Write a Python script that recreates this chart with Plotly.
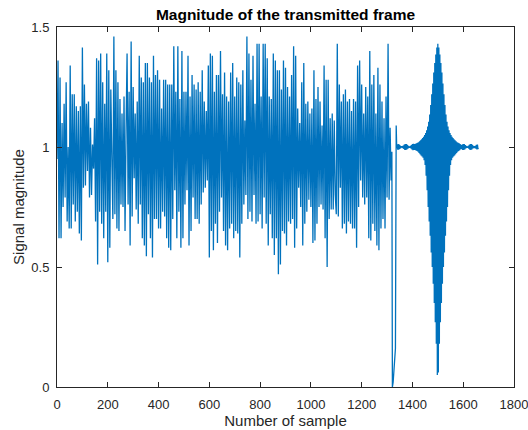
import numpy as np
import plotly.graph_objects as go

# Random-data part of the frame (one value every 4 samples)
noise_mag = [
    0.95, 1.36, 0.62, 1.29, 0.62, 1.10, 0.75, 1.18, 0.79, 1.27,
    0.69, 1.00, 0.66, 1.34, 0.66, 1.22, 0.76, 1.22, 0.69, 1.17,
    0.73, 1.15, 0.64, 1.17, 0.61, 1.415, 0.83, 1.26, 0.84, 1.18,
    0.90, 1.19, 0.79, 1.08, 0.80, 1.01, 0.91, 1.12, 0.69, 1.37,
    0.51, 1.36, 0.73, 1.39, 0.68, 1.27, 0.62, 1.18, 0.73, 1.39,
    0.52, 1.32, 0.58, 1.24, 0.95, 0.70, 1.46,
    0.72, 1.32, 0.66, 1.27, 0.65, 1.20, 0.76, 1.14, 0.75, 1.21,
    0.65, 1.07, 1.39, 0.76, 1.23, 0.59, 1.44, 0.71, 1.25, 0.87,
    1.14, 0.74, 1.19, 0.68, 1.38, 0.76, 1.29, 0.62, 1.27, 0.59,
    1.35, 0.545, 1.35, 0.72, 1.29, 0.62, 1.27, 0.54, 1.38, 0.70,
    1.30, 0.70, 1.32, 0.66, 1.28, 0.66, 1.16, 0.73, 1.28, 0.71,
    1.28, 0.62, 1.26, 0.58, 1.26, 0.57, 1.26, 0.70, 1.42, 0.82,
    1.23, 0.62, 1.42, 0.73, 1.20, 0.58, 1.40, 0.62, 1.23, 0.76,
    1.23, 0.82, 1.38, 0.59, 1.21, 0.65, 1.30, 0.79, 1.26, 0.70,
    1.24, 0.70, 1.27, 0.68, 1.23, 0.76, 1.32, 0.81, 1.19, 0.83,
    1.15, 0.86, 1.34, 0.54, 1.39, 0.65, 1.38, 0.57, 1.23, 0.68,
    1.30, 0.60, 1.30, 0.73, 1.40, 0.79, 1.22, 0.65, 1.31, 0.59,
    1.21, 0.57, 1.19, 0.66, 1.31, 0.68, 1.35, 0.62, 1.21, 0.65,
    1.29, 0.64, 1.27, 0.54, 1.26, 0.68, 1.32, 0.76, 1.11, 0.80,
    1.46, 0.70, 1.39, 0.73, 1.28, 0.69, 1.38, 0.80, 1.18, 0.68,
    1.43, 0.69, 1.43, 0.72, 1.21, 0.66, 1.43, 0.79, 1.43, 0.68,
    1.37, 0.59, 1.21, 0.72, 1.20, 0.62, 1.39, 0.55, 1.36, 0.62,
    1.32, 0.47, 1.32, 0.51, 1.24, 0.65, 1.36, 0.64, 1.33, 0.59,
    1.25, 0.69, 1.21, 0.68, 1.30, 0.70, 1.42, 0.58, 1.38, 0.66,
    1.16, 0.83, 1.10, 0.75, 1.27, 0.59, 1.35, 0.68, 1.18, 0.73,
    1.19, 0.78, 1.14, 0.75, 1.16, 0.60, 1.32, 0.61, 1.20, 0.68,
    1.25, 0.75, 1.19, 0.76, 1.09, 0.74, 1.34, 0.62, 1.28, 0.50,
    1.28, 0.70, 1.12, 0.74, 1.14, 0.74, 1.11, 0.80, 0.72, 1.43,
    0.71, 1.26, 0.83, 1.19, 0.66, 1.22, 0.68, 1.24, 0.64, 1.19,
    0.69, 1.20, 0.68, 1.15, 0.66, 1.20, 0.66, 1.19, 0.58, 1.34,
    0.75, 1.36, 0.86, 1.26, 0.79, 1.14, 0.76, 1.25, 0.79, 1.21,
    0.62, 1.40, 0.61, 1.26, 0.68, 1.30, 0.65, 1.14, 0.59, 1.33,
    0.57, 1.26, 0.66, 1.19, 0.70, 1.12, 0.66, 1.21, 0.79, 1.43,
    0.78, 1.08, 0.86,
]
noise_step = 4

# Guard interval / transition samples
trans_x = [1319, 1321, 1324, 1327, 1330, 1333, 1336, 1338]
trans_mag = [0.98, 0.0, 0.02, 0.06, 0.12, 0.16, 1.09, 0.995]

# Preamble pulse (one value every 2 samples, from sample 1340)
pulse_start = 1340
pulse_step = 2
pulse_mag = [
    1.010, 0.989, 1.012, 0.989, 1.010, 0.992, 1.006, 0.996, 1.003, 0.998,
    1.003, 0.996, 1.006, 0.992, 1.010, 0.988, 1.012, 0.988, 1.012, 0.990,
    1.009, 0.993, 1.005, 0.997, 1.002, 0.997, 1.004, 0.994, 1.008, 0.990,
    1.012, 0.987, 1.013, 0.988, 1.012, 0.988, 1.013, 0.986, 1.015, 0.983,
    1.018, 0.980, 1.020, 0.975, 1.024, 0.970, 1.028, 0.965, 1.032, 0.960,
    1.037, 0.955, 1.043, 0.945, 1.050, 0.925, 1.058, 0.880, 1.070, 0.820,
    1.085, 0.750, 1.105, 0.690, 1.135, 0.630, 1.175, 0.560, 1.220, 0.500,
    1.265, 0.430, 1.310, 0.350, 1.350, 0.270, 1.385, 0.180, 1.415, 0.050,
    1.430,
    0.060, 1.415, 0.180, 1.385, 0.270, 1.350, 0.350, 1.310, 0.430, 1.265,
    0.500, 1.220, 0.560, 1.175, 0.630, 1.135, 0.690, 1.105, 0.750, 1.085,
    0.820, 1.070, 0.880, 1.058, 0.925, 1.050, 0.945, 1.043, 0.955, 1.037,
    0.960, 1.032, 0.965, 1.028, 0.970, 1.024, 0.975, 1.020, 0.980, 1.018,
    0.984, 1.015, 0.987, 1.012, 0.991, 1.008, 0.991, 1.010, 0.988, 1.012,
    0.988, 1.012, 0.990, 1.008, 0.994, 1.004, 0.997, 1.002, 0.997, 1.005,
    0.993, 1.009, 0.989, 1.012, 0.988, 1.012, 0.990, 1.009, 0.994, 1.005,
    0.996, 1.003, 0.996, 1.005, 0.993, 1.009, 0.990, 1.010, 0.992, 0.995,
]

noise_x = list(np.arange(len(noise_mag)) * noise_step)
pulse_x = list(pulse_start + np.arange(len(pulse_mag)) * pulse_step)

x_all = noise_x + trans_x + pulse_x
y_all = noise_mag + trans_mag + pulse_mag

axis_col = "#262626"
font_fam = "Liberation Sans, Arial, Helvetica, sans-serif"

fig = go.Figure()
fig.add_trace(go.Scatter(
    x=x_all, y=y_all, mode="lines",
    line=dict(color="#0072BD", width=1.3),
    hoverinfo="skip", showlegend=False,
))

common_axis = dict(
    showgrid=False, zeroline=False, showline=True, linecolor=axis_col,
    linewidth=1, mirror="allticks", ticks="inside", ticklen=5,
    tickcolor=axis_col, tickwidth=1, ticklabeloverflow="allow",
    tickfont=dict(family=font_fam, size=13, color=axis_col),
)

fig.update_layout(
    width=528, height=430,
    margin=dict(l=57, r=14, t=27, b=43, autoexpand=False),
    paper_bgcolor="white", plot_bgcolor="white",
    font=dict(family=font_fam, color=axis_col),
    title=dict(
        text="<b>Magnitude of the transmitted frame</b>",
        font=dict(family=font_fam, size=15.5, color="#000000"),
        x=0.5, xref="paper", xanchor="center",
        y=1 - 15 / 430, yref="container", yanchor="middle",
    ),
    xaxis=dict(
        range=[0, 1800], dtick=200, tick0=0, ticklabelstandoff=5,
        title=dict(text="Number of sample", standoff=3,
                   font=dict(family=font_fam, size=15, color=axis_col)),
        **common_axis,
    ),
    yaxis=dict(
        range=[0, 1.5], dtick=0.5, tick0=0, ticklabelstandoff=4,
        title=dict(text="Signal magnitude", standoff=3,
                   font=dict(family=font_fam, size=15, color=axis_col)),
        **common_axis,
    ),
)

fig.write_html("out.html")
